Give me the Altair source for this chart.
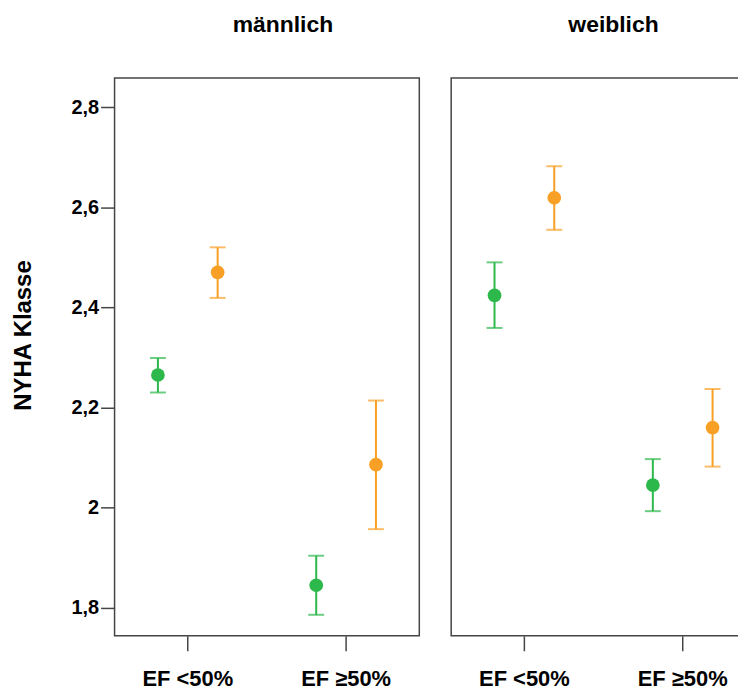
import altair as alt
import pandas as pd

sexes = ["männlich"] * 4 + ["weiblich"] * 4
ef_groups = ["EF <50%", "EF <50%", "EF ≥50%", "EF ≥50%"] * 2
groups = ["Gruppe 1", "Gruppe 2"] * 4
means = [2.265, 2.470, 1.845, 2.086, 2.424, 2.619, 2.045, 2.160]
lower = [2.230, 2.419, 1.786, 1.957, 2.359, 2.555, 1.993, 2.082]
upper = [2.299, 2.520, 1.904, 2.214, 2.490, 2.682, 2.097, 2.237]
panel_titles = ["männlich", "weiblich"]

df = pd.DataFrame({
    "sex": sexes, "ef": ef_groups, "grp": groups,
    "mean": means, "lo": lower, "hi": upper,
})

FONT = "Liberation Sans"
FRAME = "#454545"
colors = alt.Scale(domain=["Gruppe 1", "Gruppe 2"], range=["#2db84b", "#f89f25"])
xs = alt.X("ef:N", title=None, sort=["EF <50%", "EF ≥50%"],
           scale=alt.Scale(paddingInner=0.2, paddingOuter=0.0625),
           axis=alt.Axis(labelAngle=0, domain=False, tickSize=15, tickColor=FRAME,
                         tickWidth=1.5, labelPadding=18, labelFontSize=22,
                         labelFontWeight="bold", labelFont=FONT, labelColor="#000000"))
xo = alt.XOffset("grp:N", scale=alt.Scale(paddingInner=0, paddingOuter=0.06))
yscale = alt.Scale(domain=[1.744, 2.858], nice=False, zero=False)
yaxis_left = alt.Axis(values=[1.8, 2.0, 2.2, 2.4, 2.6, 2.8], grid=False, domain=False,
                      labelExpr="replace(format(datum.value, '~g'), '.', ',')",
                      tickSize=14, tickColor=FRAME, tickWidth=1.5, labelPadding=2,
                      labelFontSize=20, labelFontWeight="bold", labelFont=FONT,
                      labelColor="#000000", titleFontSize=24, titleFont=FONT,
                      titleFontWeight="bold", titleColor="#000000", titlePadding=36,
                      titleY=258)
col = alt.Color("grp:N", scale=colors, legend=None)


def panel(name, yaxis, dx):
    base = alt.Chart().encode(x=xs, xOffset=xo, color=col)
    ys = alt.Y("mean:Q", title="NYHA Klasse", scale=yscale, axis=yaxis)
    rules = base.mark_rule(strokeWidth=2).encode(y=ys, y2="hi:Q")
    rules2 = base.mark_rule(strokeWidth=2).encode(y=alt.Y("lo:Q"), y2="mean:Q")
    caps_hi = base.mark_tick(size=16, thickness=2).encode(y=alt.Y("hi:Q"))
    caps_lo = base.mark_tick(size=16, thickness=2).encode(y=alt.Y("lo:Q"))
    pts = base.mark_circle(size=190, opacity=1).encode(y=alt.Y("mean:Q"))
    return alt.layer(rules, rules2, caps_hi, caps_lo, pts, data=df).transform_filter(
        alt.datum.sex == name
    ).properties(
        width=306, height=560,
        title=alt.TitleParams(text=name, fontSize=23, font=FONT, fontWeight="bold",
                              color="#000000", anchor="middle", dx=dx, offset=23,
                              baseline="alphabetic"),
    )


left = panel(panel_titles[0], yaxis_left, 16)
right = panel(panel_titles[1], None, 10)

chart = alt.hconcat(left, right, spacing=30).properties(
    padding={"left": 2, "top": 4, "right": -19, "bottom": 0}
).configure_view(stroke=FRAME, strokeWidth=1.5)

chart.save("out.html", embed_options={"renderer": "svg", "actions": False})
